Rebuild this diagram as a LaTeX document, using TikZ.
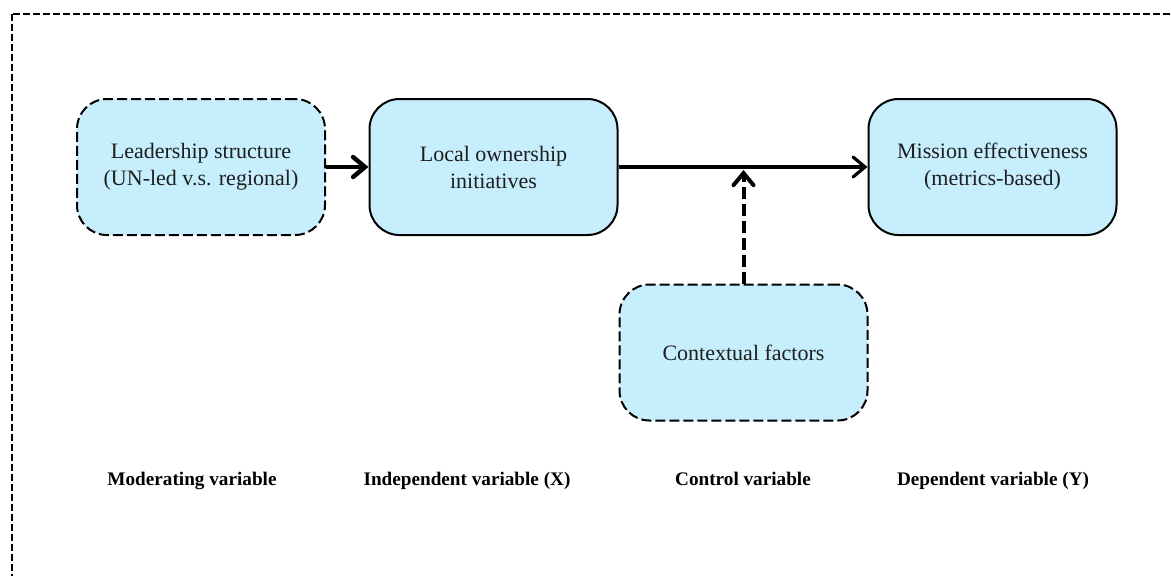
\documentclass[tikz,border=0pt]{standalone}
\usepackage{fontspec}
\setmainfont{Liberation Serif}
\usetikzlibrary{arrows.meta}
\definecolor{boxblue}{RGB}{198,238,252}
\definecolor{inktext}{RGB}{30,30,30}

\begin{document}
\begin{tikzpicture}[x=0.5pt,y=-0.5pt,
    varbox/.style={draw=black, fill=boxblue, rounded corners=15pt, line width=1pt,
        minimum width=124pt, minimum height=68pt, align=center,
        text=inktext, font=\fontsize{11}{13.5}\selectfont},
    dashbox/.style={varbox, dash pattern=on 5pt off 2pt},
    rolelabel/.style={anchor=base, font=\fontsize{9.6}{12}\selectfont\bfseries},
    flow/.style={line width=2pt, -{Straight Barb[length=6pt,width=10pt,line cap=round]}}]
    \useasboundingbox (0,0) rectangle (1171,575);
    \clip (0,0) rectangle (1171,575);
    \draw[line width=1.2pt, dash pattern=on 3.5pt off 1.5pt] (12,14) rectangle (1200,600);

    \node[dashbox] (lead) at (201,167) {Leadership structure\\(UN-led v.s. regional)};
    \node[varbox] (local) at (493.5,167) {Local ownership\\initiatives};
    \node[varbox] (mission) at (992.5,167) {Mission effectiveness\\(metrics-based)};
    \node[dashbox] (context) at (743.5,352.5) {Contextual factors};
    \coordinate (join) at (context.north |- local.east);

    \draw[flow, line width=2.2pt] (lead) -- (local);
    \draw[flow, line width=1.6pt] (local) -- (mission);
    \draw[flow, dash pattern=on 6pt off 2.5pt] (context) -- ([yshift=-1.5pt]join);

    \node[rolelabel] (modlab) at (192,485) {Moderating variable};
    \node[rolelabel] (indlab) at (467,485) {Independent variable (X)};
    \node[rolelabel] (ctllab) at (743,485) {Control variable};
    \node[rolelabel] (deplab) at (993,485) {Dependent variable (Y)};
\end{tikzpicture}
\end{document}
